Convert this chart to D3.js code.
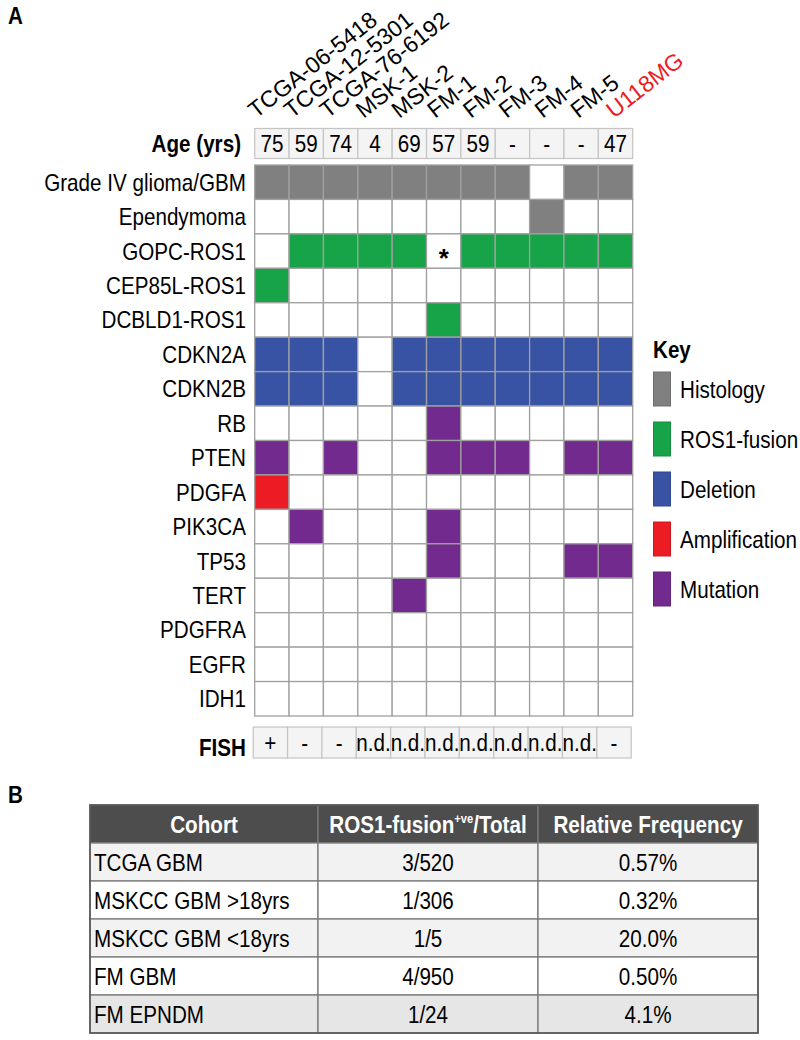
<!DOCTYPE html>
<html>
<head>
<meta charset="utf-8">
<script src="https://cdn.jsdelivr.net/npm/d3@7"></script>
<style>
  body { margin: 0; background: #fff; }
  svg { font-family: "Liberation Sans", Arial, Helvetica, sans-serif; }
</style>
</head>
<body>
<script>
const samples = ["TCGA-06-5418", "TCGA-12-5301", "TCGA-76-6192", "MSK-1", "MSK-2", "FM-1", "FM-2", "FM-3", "FM-4", "FM-5", "U118MG"];
const ages = ["75", "59", "74", "4", "69", "57", "59", "-", "-", "-", "47"];
const fish = ["+", "-", "-", "n.d.", "n.d.", "n.d.", "n.d.", "n.d.", "n.d.", "n.d.", "-"];

const features = ["Grade IV glioma/GBM", "Ependymoma", "GOPC-ROS1", "CEP85L-ROS1", "DCBLD1-ROS1", "CDKN2A", "CDKN2B", "RB", "PTEN", "PDGFA", "PIK3CA", "TP53", "TERT", "PDGFRA", "EGFR", "IDH1"];
// one code per sample: H histology, F ROS1-fusion, D deletion, A amplification, M mutation, * asterisk, . none
const featureCodes = [
  "HHHHHHHH.HH",
  "........H..",
  ".FFFF*FFFFF",
  "F..........",
  ".....F.....",
  "DDD.DDDDDDD",
  "DDD.DDDDDDD",
  ".....M.....",
  "M.M..MMM.MM",
  "A..........",
  ".M...M.....",
  ".....M...MM",
  "....M......",
  "...........",
  "...........",
  "..........."
];

const keyCodes = ["H", "F", "D", "A", "M"];
const keyLabels = ["Histology", "ROS1-fusion", "Deletion", "Amplification", "Mutation"];
const keyColors = ["#808080", "#17a449", "#3953a4", "#ec1c24", "#732a8e"];

const cohorts = ["TCGA GBM", "MSKCC GBM >18yrs", "MSKCC GBM <18yrs", "FM GBM", "FM EPNDM"];
const fusionTotals = ["3/520", "1/306", "1/5", "4/950", "1/24"];
const frequencies = ["0.57%", "0.32%", "20.0%", "0.50%", "4.1%"];

const FS = 24;
const SX = 0.86; // the figure text is narrow and tall
const color = d3.scaleOrdinal().domain(keyCodes).range(keyColors).unknown("#ffffff");

const svg = d3.select("body").append("svg")
  .attr("width", 800)
  .attr("height", 1040);

function txt(x, y, s, size, anchor, weight) {
  return svg.append("text")
    .attr("transform", `translate(${x},${y}) scale(${SX},1)`)
    .attr("text-anchor", anchor || "start")
    .attr("font-size", size)
    .attr("font-weight", weight || "normal")
    .text(s);
}

// ---- panel A ----
txt(8, 24, "A", FS, "start", "bold");

let x = d3.scaleBand().domain(samples).range([254.7, 632.7]);
let y = d3.scaleBand().domain(features).range([165, 716]);
let cw = x.bandwidth();

// sample names, rotated (their anchors are spread a little wider than the cells)
let xl = d3.scalePoint().domain(samples).range([256, 614]);
samples.forEach(s => {
  svg.append("text")
    .attr("transform", `translate(${xl(s)},119) rotate(-38)`)
    .attr("font-size", 23)
    .attr("fill", s == "U118MG" ? "#ec1c24" : "#000")
    .text(s);
});

// age row
txt(241, 152, "Age (yrs)", FS, "end", "bold");
svg.selectAll("rect.age").data(samples).join("rect")
  .attr("class", "age")
  .attr("x", d => x(d)).attr("y", 128.5)
  .attr("width", cw).attr("height", 30)
  .attr("fill", "#f4f4f4").attr("stroke", "#c4c4c4").attr("stroke-width", 1.2);
samples.forEach((s, i) => txt(x(s) + cw / 2, 152, ages[i], FS, "middle"));

// feature grid
features.forEach((f, r) => {
  txt(246, y(f) + y.bandwidth() / 2 + 8.5, f, FS, "end");
  let codes = featureCodes[r].split("");
  svg.append("g").selectAll("rect").data(codes).join("rect")
    .attr("x", (d, i) => x(samples[i]))
    .attr("y", y(f))
    .attr("width", cw)
    .attr("height", y.bandwidth())
    .attr("fill", d => color(d))
    .attr("stroke", "#a0a0a0")
    .attr("stroke-width", 1.3);
  codes.forEach((d, i) => {
    if (d == "*") {
      svg.append("text")
        .attr("x", x(samples[i]) + cw / 2)
        .attr("y", y(f) + y.bandwidth() / 2 + 16)
        .attr("text-anchor", "middle")
        .attr("font-size", 26)
        .attr("font-weight", "bold")
        .text("*");
    }
  });
});

// FISH row
txt(246, 756, "FISH", FS, "end", "bold");
svg.selectAll("rect.fish").data(samples).join("rect")
  .attr("class", "fish")
  .attr("x", d => x(d) - 1.5).attr("y", 727)
  .attr("width", cw).attr("height", 31)
  .attr("fill", "#f4f4f4").attr("stroke", "#c4c4c4").attr("stroke-width", 1.2);
samples.forEach((s, i) => txt(x(s) - 1.5 + cw / 2, 751, fish[i], FS, "middle"));

// key
txt(653, 358, "Key", FS, "start", "bold");
keyLabels.forEach((k, i) => {
  svg.append("rect")
    .attr("x", 653.5).attr("y", 372 + i * 50)
    .attr("width", 17).attr("height", 34)
    .attr("fill", keyColors[i])
    .attr("stroke", d3.color(keyColors[i]).darker(0.4))
    .attr("stroke-width", 1);
  txt(680, 372 + i * 50 + 26, k, FS);
});

// ---- panel B ----
txt(8, 803, "B", FS, "start", "bold");

let colEdges = [90, 318, 538, 758];
let headers = ["Cohort", "ROS1-fusion", "Relative Frequency"];
let ty = d3.scaleBand().domain(d3.range(cohorts.length + 1)).range([805, 1033]);
let rh = ty.bandwidth();
let rowFills = ["#4d4d4d", "#f2f2f2", "#ffffff", "#f2f2f2", "#ffffff", "#e6e6e6"];

d3.range(cohorts.length + 1).forEach(r => {
  for (let c = 0; c < 3; c++) {
    svg.append("rect")
      .attr("x", colEdges[c]).attr("y", ty(r))
      .attr("width", colEdges[c + 1] - colEdges[c]).attr("height", rh)
      .attr("fill", rowFills[r])
      .attr("stroke", "#7a7a7a").attr("stroke-width", 1.3);
  }
});
svg.append("rect")
  .attr("x", colEdges[0]).attr("y", ty(0))
  .attr("width", colEdges[3] - colEdges[0]).attr("height", rh * (cohorts.length + 1))
  .attr("fill", "none").attr("stroke", "#555").attr("stroke-width", 1.6);

let hy = ty(0) + rh / 2 + 9;
txt((colEdges[0] + colEdges[1]) / 2, hy, headers[0], FS, "middle", "bold").attr("fill", "#fff");
let h2 = txt((colEdges[1] + colEdges[2]) / 2, hy, headers[1], FS, "middle", "bold").attr("fill", "#fff");
h2.append("tspan").attr("font-size", 13).attr("dy", -10).text("+ve");
h2.append("tspan").attr("dy", 10).text("/Total");
txt((colEdges[2] + colEdges[3]) / 2, hy, headers[2], FS, "middle", "bold").attr("fill", "#fff");

cohorts.forEach((c, i) => {
  let by = ty(i + 1) + rh / 2 + 9;
  txt(colEdges[0] + 4, by, c, FS);
  txt((colEdges[1] + colEdges[2]) / 2, by, fusionTotals[i], FS, "middle");
  txt((colEdges[2] + colEdges[3]) / 2, by, frequencies[i], FS, "middle");
});
</script>
</body>
</html>
